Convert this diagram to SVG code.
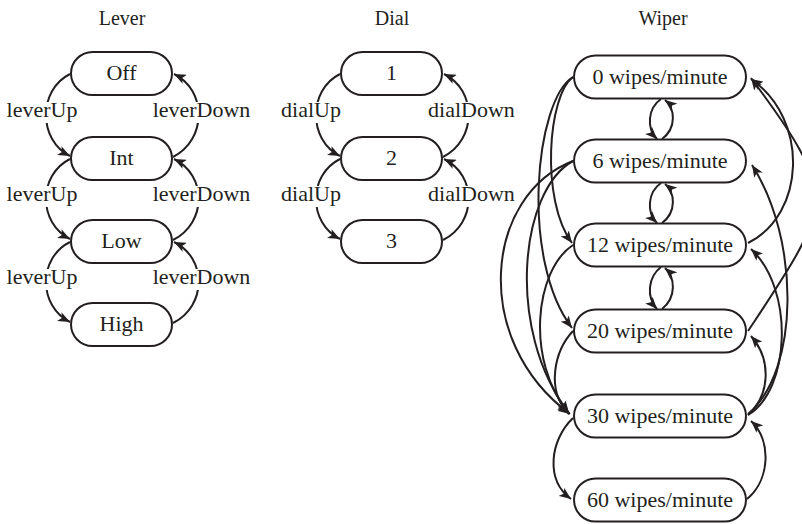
<svg xmlns="http://www.w3.org/2000/svg" width="802" height="524" viewBox="0 0 802 524">
<defs>
<marker id="ah" markerUnits="userSpaceOnUse" markerWidth="13" markerHeight="10" refX="12" refY="5" orient="auto">
<path d="M0,0 L12,5 L0,10 L3,5 z" fill="#231f20"/>
</marker>
<style>
.n rect{fill:#fff;stroke:#231f20;stroke-width:2}
.n text,.t,.l{font-family:"Liberation Serif","Times New Roman",serif;fill:#231f20;text-anchor:middle}
.n text{font-size:22px}
.t{font-size:20px}
.l{font-size:22px}
.e path{fill:none;stroke:#231f20;stroke-width:2;marker-end:url(#ah)}
.bg{fill:#fff}
</style>
</defs>
<rect width="802" height="524" fill="#fff"/>
<text class="t" x="122" y="25">Lever</text>
<text class="t" x="392" y="25">Dial</text>
<text class="t" x="663" y="25">Wiper</text>

<g id="connectors" class="e">
<!-- Lever -->
<path d="M70,74 C38,90 38,140 70,156"/>
<path d="M70,159 C38,175 38,223 70,239"/>
<path d="M70,242 C38,258 38,306 70,322"/>
<path d="M173,157 C207,140 207,90 174,74"/>
<path d="M173,240 C207,223 207,175 174,159"/>
<path d="M173,323 C207,306 207,258 174,242"/>
<!-- Dial -->
<path d="M340,74 C308,90 308,140 340,156"/>
<path d="M340,159 C308,175 308,223 340,239"/>
<path d="M443,157 C477,140 477,90 444,74"/>
<path d="M443,240 C477,223 477,175 444,159"/>
<!-- Wiper small loops -->
<path d="M661,99 C648,108 646,128 657,139"/>
<path d="M662,139 C677,128 675,108 665,100"/>
<path d="M661,183 C648,192 646,212 657,223"/>
<path d="M662,223 C677,212 675,192 665,184"/>
<path d="M661,267 C648,277 646,297 657,309"/>
<path d="M662,309 C677,297 675,277 665,268"/>
<!-- Wiper left -->
<path d="M573,77 C548,95 540,200 572,243"/>
<path d="M573,77 C535,100 520,260 572,328"/>
<path d="M573,161 C485,195 470,340 570,414"/>
<path d="M573,161 C520,190 505,330 569,413"/>
<path d="M573,245 C535,270 525,360 569,414"/>
<path d="M573,331 C555,350 545,390 569,414"/>
<path d="M573,418 C550,440 545,480 571,499"/>
<!-- Wiper right -->
<path d="M748,243 C805,215 810,120 751,79"/>
<path d="M748,331 C831,206 841,198 751,78"/>
<path d="M748,414 C800,370 800,240 752,165"/>
<path d="M748,415 C790,390 795,290 751,249"/>
<path d="M748,415 C770,395 772,360 751,336"/>
<path d="M747,499 C770,480 772,440 751,421"/>
</g>

<g id="labels">
<rect class="bg" x="6" y="102" width="72" height="21"/><text class="l" x="42" y="117">leverUp</text>
<rect class="bg" x="152" y="102" width="99" height="21"/><text class="l" x="201.5" y="117">leverDown</text>
<rect class="bg" x="6" y="186" width="72" height="21"/><text class="l" x="42" y="201">leverUp</text>
<rect class="bg" x="152" y="186" width="99" height="21"/><text class="l" x="201.5" y="201">leverDown</text>
<rect class="bg" x="6" y="269" width="72" height="21"/><text class="l" x="42" y="284">leverUp</text>
<rect class="bg" x="152" y="269" width="99" height="21"/><text class="l" x="201.5" y="284">leverDown</text>
<rect class="bg" x="281" y="102" width="61" height="21"/><text class="l" x="311" y="117">dialUp</text>
<rect class="bg" x="427" y="102" width="89" height="21"/><text class="l" x="471.5" y="117">dialDown</text>
<rect class="bg" x="281" y="186" width="61" height="21"/><text class="l" x="311" y="201">dialUp</text>
<rect class="bg" x="427" y="186" width="89" height="21"/><text class="l" x="471.5" y="201">dialDown</text>
</g>

<g id="lever-off" class="n"><rect x="71" y="52" width="101" height="43" rx="21.5"/><text x="121.5" y="80">Off</text></g>
<g id="lever-int" class="n"><rect x="71" y="137" width="101" height="43" rx="21.5"/><text x="121.5" y="165">Int</text></g>
<g id="lever-low" class="n"><rect x="71" y="220" width="101" height="43" rx="21.5"/><text x="121.5" y="248">Low</text></g>
<g id="lever-high" class="n"><rect x="71" y="303" width="101" height="43" rx="21.5"/><text x="121.5" y="331">High</text></g>

<g id="dial-1" class="n"><rect x="341" y="52" width="101" height="43" rx="21.5"/><text x="391.5" y="80">1</text></g>
<g id="dial-2" class="n"><rect x="341" y="137" width="101" height="43" rx="21.5"/><text x="391.5" y="165">2</text></g>
<g id="dial-3" class="n"><rect x="341" y="220" width="101" height="43" rx="21.5"/><text x="391.5" y="248">3</text></g>

<g id="wiper-0" class="n"><rect x="574" y="55.5" width="172" height="43" rx="21.5"/><text x="660" y="84">0 wipes/minute</text></g>
<g id="wiper-6" class="n"><rect x="574" y="139.5" width="172" height="43" rx="21.5"/><text x="660" y="168">6 wipes/minute</text></g>
<g id="wiper-12" class="n"><rect x="574" y="223.5" width="172" height="43" rx="21.5"/><text x="660" y="252">12 wipes/minute</text></g>
<g id="wiper-20" class="n"><rect x="574" y="309.5" width="172" height="43" rx="21.5"/><text x="660" y="338">20 wipes/minute</text></g>
<g id="wiper-30" class="n"><rect x="574" y="394.5" width="172" height="43" rx="21.5"/><text x="660" y="423">30 wipes/minute</text></g>
<g id="wiper-60" class="n"><rect x="574" y="478.5" width="172" height="43" rx="21.5"/><text x="660" y="507">60 wipes/minute</text></g>
</svg>
